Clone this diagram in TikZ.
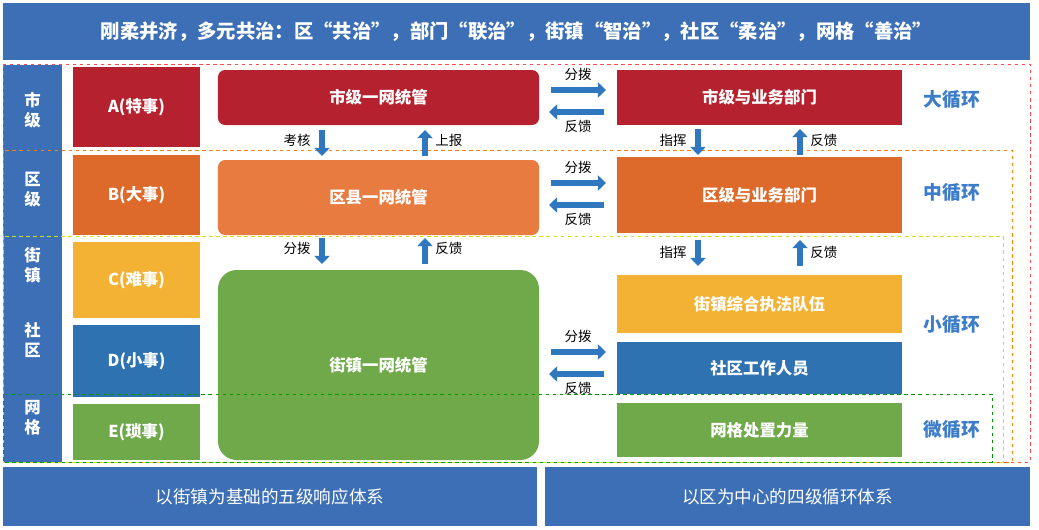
\documentclass[tikz,border=0pt]{standalone}
\usepackage{fontspec}
\setmainfont{Noto Sans CJK SC}
\usetikzlibrary{arrows.meta,positioning}
\definecolor{barblue}{HTML}{3C6FB6}
\definecolor{lvred}{HTML}{B5212E}
\definecolor{lvorange}{HTML}{DD6A2A}
\definecolor{lvorangel}{HTML}{E87B40}
\definecolor{lvyellow}{HTML}{F3B234}
\definecolor{lvblue}{HTML}{2F72B2}
\definecolor{lvgreen}{HTML}{6FA94A}
\definecolor{loopblue}{HTML}{3D7CC9}
\definecolor{arrblue}{HTML}{2F78C0}

\begin{document}
\begin{tikzpicture}[
    x=0.03cm, y=-0.03cm,
    cell/.style={rectangle, inner sep=0pt, text=white, font=\bfseries\fontsize{14}{16}\selectfont, align=center},
    bigbox/.style={cell, rounded corners=6pt, minimum width=9.63cm},
    rightbox/.style={cell, minimum width=8.55cm},
    levelbox/.style={cell, minimum width=3.81cm},
    bar/.style={cell, fill=barblue, font=\fontsize{15}{17}\selectfont},
    tag/.style={font=\fontsize{11.5}{13}\selectfont, inner sep=1pt},
    looptag/.style={text=loopblue, font=\bfseries\fontsize{16}{18}\selectfont},
    sidetag/.style={text=white, font=\bfseries\fontsize{14}{17}\selectfont, align=center},
    blockarrow/.style={arrblue, line width=5pt, -{Triangle[length=7pt,width=13pt]}},
    frame/.style={dashed, line width=0.5pt}
]
    \useasboundingbox (0,0) rectangle (1039,529);

    % Title and footers
    \node[bar, font=\bfseries\fontsize{16.5}{18}\selectfont, minimum width=30.81cm, minimum height=1.71cm] (title) at (516.5,31.5) {刚柔并济，多元共治：区“共治”，部门“联治”，街镇“智治”，社区“柔治”，网格“善治”};
    \node[bar, minimum width=16.02cm, minimum height=1.77cm] (footl) at (270,496.5) {以街镇为基础的五级响应体系};
    \node[bar, minimum width=14.55cm, minimum height=1.77cm] (footr) at (787.5,496.5) {以区为中心的四级循环体系};

    % Level strip
    \node[cell, fill=barblue, minimum width=1.77cm, minimum height=11.91cm] (strip) at (32.5,263.5) {};
    \node[sidetag] (shi) at (32.5,110) {市\\级};
    \node[sidetag] (qu) at (32.5,190) {区\\级};
    \node[sidetag] (jie) at (32.5,265) {街\\镇};
    \node[sidetag] (she) at (32.5,340) {社\\区};
    \node[sidetag] (wang) at (32.5,418) {网\\格};

    % Levels
    \node[levelbox, fill=lvred, minimum height=2.4cm] (lvA) at (136.5,107) {A(特事)};
    \node[levelbox, fill=lvorange, minimum height=2.4cm] (lvB) at (136.5,195) {B(大事)};
    \node[levelbox, fill=lvyellow, minimum height=2.28cm] (lvC) at (136.5,280) {C(难事)};
    \node[levelbox, fill=lvblue, minimum height=2.16cm] (lvD) at (136.5,361) {D(小事)};
    \node[levelbox, fill=lvgreen, minimum height=1.68cm] (lvE) at (136.5,432) {E(琐事)};

    % One-network centres
    \node[bigbox, fill=lvred, minimum height=1.65cm] (citynet) at (378.5,97.5) {市级一网统管};
    \node[bigbox, fill=lvorangel, minimum height=2.25cm] (distnet) at (378.5,197.5) {区县一网统管};
    \node[bigbox, fill=lvgreen, rounded corners=16pt, minimum height=5.7cm] (townnet) at (378.5,365) {街镇一网统管};

    % Departments
    \node[rightbox, fill=lvred, minimum height=1.65cm] (citydep) at (759.5,97.5) {市级与业务部门};
    \node[rightbox, fill=lvorange, minimum height=2.28cm] (distdep) at (759.5,195) {区级与业务部门};
    \node[rightbox, fill=lvyellow, minimum height=1.74cm] (lawteam) at (759.5,304) {街镇综合执法队伍};
    \node[rightbox, fill=lvblue, minimum height=1.56cm] (staff) at (759.5,368) {社区工作人员};
    \node[rightbox, fill=lvgreen, minimum height=1.62cm] (gridforce) at (759.5,430) {网格处置力量};

    % Loop names
    \node[looptag] (bigloop) at (952,100) {大循环};
    \node[looptag] (midloop) at (952,193) {中循环};
    \node[looptag] (smallloop) at (952,325) {小循环};
    \node[looptag] (microloop) at (952,430) {微循环};

    % Dashed frames
    \draw[frame, red!70] (3,64) rectangle (1030,462);
    \draw[frame, orange] (3,150) rectangle (1012,462);
    \draw[frame, yellow!80!green] (3,236) rectangle (1003,462);
    \draw[frame, green!60!black] (3,394) rectangle (992,462);

    % Vertical arrows, centre column
    \draw[blockarrow] (322,130) -- (322,156);
    \node[tag, anchor=east] (kaohe) at (312,140) {考核};
    \draw[blockarrow] (425,156) -- (425,130);
    \node[tag, anchor=west] (shangbao) at (434,140) {上报};
    \draw[blockarrow] (322,238) -- (322,264);
    \node[tag, anchor=east] (fenbo1) at (312,248) {分拨};
    \draw[blockarrow] (425,264) -- (425,238);
    \node[tag, anchor=west] (fankui1) at (434,248) {反馈};

    % Vertical arrows, right column
    \draw[blockarrow] (698,129) -- (698,155);
    \node[tag, anchor=east] (zhihui1) at (688,140) {指挥};
    \draw[blockarrow] (800,155) -- (800,129);
    \node[tag, anchor=west] (fankui2) at (809,140) {反馈};
    \draw[blockarrow] (698,240) -- (698,266);
    \node[tag, anchor=east] (zhihui2) at (688,252) {指挥};
    \draw[blockarrow] (800,266) -- (800,240);
    \node[tag, anchor=west] (fankui3) at (809,252) {反馈};

    % Horizontal double arrows
    \foreach \y/\n in {90/a, 183/b, 352/c} {
        \draw[blockarrow] (551,\y) -- (606,\y);
        \draw[blockarrow] (604,\y+22) -- (549,\y+22);
        \node[tag] (fb\n) at (578,\y-16) {分拨};
        \node[tag] (fk\n) at (578,\y+36) {反馈};
    }
\end{tikzpicture}
\end{document}
